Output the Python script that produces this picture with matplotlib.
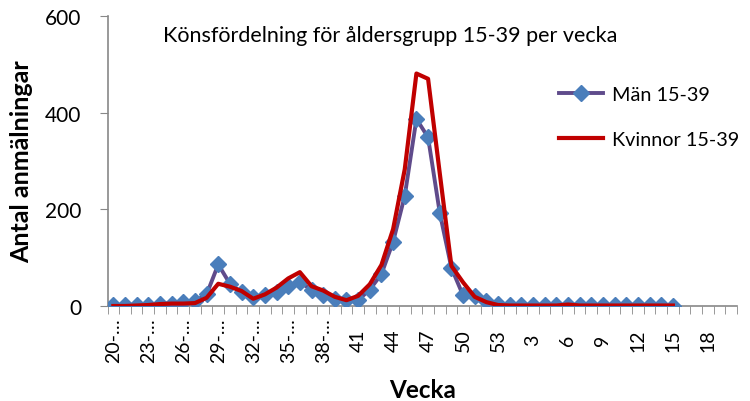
import matplotlib.pyplot as plt
import numpy as np

plt.rcParams['font.family'] = ['Lato', 'DejaVu Sans']

# week 20..53 then 1..20
weeks = list(range(20, 54)) + list(range(1, 21))

men = [2, 2, 3, 3, 5, 5, 8, 10, 24, 86, 46, 28, 18, 22, 30, 42, 50, 33, 22, 15,
       12, 12, 34, 66, 133, 228, 387, 349, 193, 79, 22, 20, 11, 5,
       3, 3, 2, 3, 2, 2, 3, 2, 2, 2, 2, 2, 2, 2, 1]
women = [0, 0, 1, 2, 4, 5, 5, 6, 17, 46, 40, 31, 15, 24, 38, 57, 70, 41, 32, 19,
         12, 21, 45, 85, 159, 283, 481, 470, 275, 83, 49, 19, 8, 2,
         1, 1, 1, 1, 1, 3, 1, 1, 1, 1, 1, 1, 1, 1, 1]

# labels shown on every third week, the early ones cut short like in excel
tick_labels = ['20-…', '23-…', '26-…', '29-…', '32-…', '35-…', '38-…',
               '41', '44', '47', '50', '53', '3', '6', '9', '12', '15', '18']

fig = plt.figure(figsize=(7.5, 4.02), dpi=100)
ax = fig.add_axes([107.5/750, 95/402, 629.5/750, 290/402])

x = np.arange(len(men))
ax.plot(x, men, color='#5F4B8B', lw=2.8, marker='D', ms=8.5,
        mfc='#4A7EBB', mec='#4A7EBB', label='Män 15-39', zorder=3)
ax.plot(np.arange(len(women)), women, color='#C00000', lw=3,
        label='Kvinnor 15-39', zorder=4)

ax.set_xlim(-0.5, len(weeks) - 0.5)
ax.set_ylim(0, 600)
ax.set_yticks([0, 200, 400, 600])

ax.set_xticks(np.arange(0, len(weeks), 3))
ax.set_xticklabels(tick_labels, rotation=90, fontsize=14, va='center')
ax.set_xticks(np.arange(len(weeks) + 1) - 0.5, minor=True)
ax.tick_params(axis='x', which='major', length=0, pad=24)
ax.tick_params(axis='x', which='minor', length=6, color='#888888', direction='out')
ax.tick_params(axis='y', length=6, color='#888888', labelsize=15, pad=13)

for s in ['top', 'right']:
    ax.spines[s].set_visible(False)
for s in ['left', 'bottom']:
    ax.spines[s].set_color('#888888')
    ax.spines[s].set_linewidth(1.2)

ax.set_ylabel('Antal anmälningar', fontsize=18, fontweight='bold')
ax.yaxis.set_label_coords(-0.118, 0.5)
ax.set_xlabel('Vecka', fontsize=17.5, fontweight='bold')
ax.xaxis.set_label_coords(0.5, -0.25)

ax.text(0.449, 0.914, 'Könsfördelning för åldersgrupp 15-39 per vecka',
        transform=ax.transAxes, ha='center', va='baseline', fontsize=15.5)

ax.legend(loc='upper left', bbox_to_anchor=(0.718, 0.758), frameon=False,
          fontsize=14.3, handlelength=2.2, labelspacing=1.4, handletextpad=0.45,
          borderpad=0, borderaxespad=0)

fig.savefig('out.png', dpi=100)
